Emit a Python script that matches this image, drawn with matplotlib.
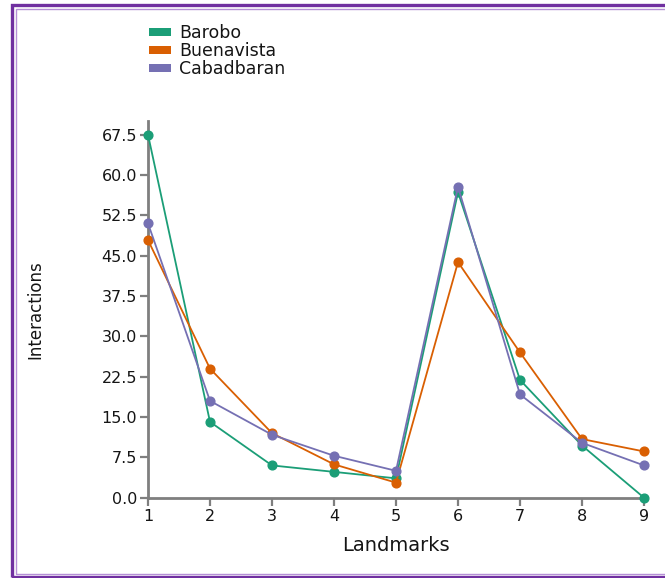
import matplotlib.pyplot as plt
from matplotlib.patches import Patch, Rectangle

# interactions counted per landmark for each municipality
landmarks = [1, 2, 3, 4, 5, 6, 7, 8, 9]
barobo = [67.5, 14.1, 6.0, 4.8, 3.6, 56.8, 21.9, 9.7, 0.0]
buenavista = [47.9, 24.0, 12.0, 6.2, 2.8, 43.8, 27.0, 10.9, 8.6]
cabadbaran = [51.0, 18.0, 11.7, 7.8, 5.0, 57.8, 19.2, 10.2, 6.0]

series_names = ["Barobo", "Buenavista", "Cabadbaran"]
colors = ["#1b9e77", "#d95f02", "#7570b3"]
yticks = [0.0, 7.5, 15.0, 22.5, 30.0, 37.5, 45.0, 52.5, 60.0, 67.5]

W, H = 665, 578
fig = plt.figure(figsize=(W / 100, H / 100), dpi=100)
ax = fig.add_axes([148 / W, 1 - 497.7 / H, (644 - 148) / W, (497.7 - 121.2) / H])

for vals, c in zip([barobo, buenavista, cabadbaran], colors):
    ax.plot(landmarks, vals, color=c, lw=1.3, marker="o", ms=6.3,
            mec=c, mfc=c, clip_on=False, zorder=3)

ax.set_xlim(1, 9)
ax.set_ylim(0, 70)
ax.set_xticks(landmarks)
ax.set_yticks(yticks)
ax.set_yticklabels([f"{v:.1f}" for v in yticks])

gray = "#7f7f7f"
ink = "#151515"
for side in ["top", "right"]:
    ax.spines[side].set_visible(False)
for side in ["left", "bottom"]:
    ax.spines[side].set_color(gray)
    ax.spines[side].set_linewidth(2.0)
ax.tick_params(axis="both", colors=gray, width=1.6, length=5.5,
               labelcolor=ink, labelsize=11.5)
ax.tick_params(axis="y", pad=2.5)
ax.tick_params(axis="x", pad=2.5)

ax.set_xlabel("Landmarks", fontsize=14, color=ink, labelpad=9)
ax.set_ylabel("Interactions", fontsize=12, color=ink)
ax.yaxis.set_label_coords(-0.208, 0.5)

handles = [Patch(facecolor=c, edgecolor="none") for c in colors]
fig.legend(handles, series_names, loc="upper left",
           bbox_to_anchor=(149 / W, 1 - 24 / H), frameon=False,
           fontsize=12.5, handlelength=1.25, handleheight=0.35,
           handletextpad=0.5, labelspacing=0.0, borderpad=0,
           borderaxespad=0, labelcolor=ink)

# double purple frame around the figure
fig.patches.append(Rectangle((11.5 / W, 1 - 576.5 / H), 2.0, (576.5 - 5) / H,
                             transform=fig.transFigure, fill=False,
                             edgecolor="#7030a0", lw=2.4))
fig.patches.append(Rectangle((15.5 / W, 1 - 573.5 / H), 2.0, (573.5 - 8.5) / H,
                             transform=fig.transFigure, fill=False,
                             edgecolor="#b58fd6", lw=1.0))

fig.savefig("out.png", dpi=100)
